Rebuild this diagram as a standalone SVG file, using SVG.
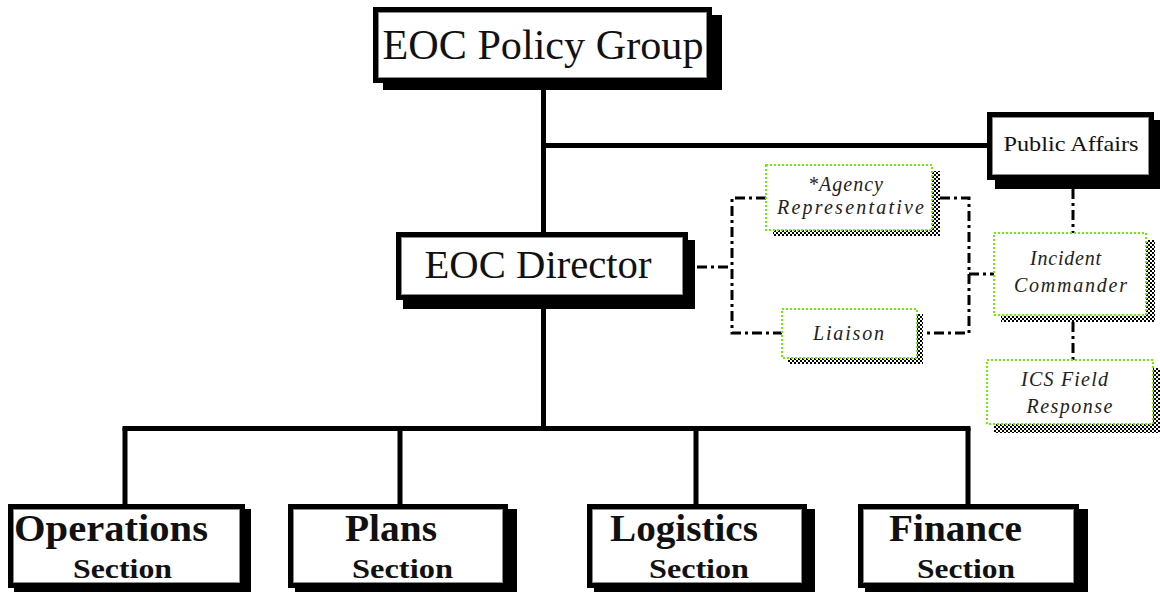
<svg xmlns="http://www.w3.org/2000/svg" width="1160" height="592" viewBox="0 0 1160 592">
  <style>
    .box { fill: #fff; stroke: #000; stroke-width: 5; }
    .inner { fill: none; stroke: #8a8a8a; stroke-width: 1; }
    .shadow { fill: #000; }
    .dbox { fill: #fff; stroke: #6cf000; stroke-width: 2; stroke-dasharray: 2 2; }
    .cshadow { fill: url(#checker); }
    .solid { fill: none; stroke: #000; stroke-width: 5; }
    .dashdot { fill: none; stroke: #000; stroke-width: 3; stroke-dasharray: 10 4 3 4; }
    text { font-family: "Liberation Serif", "DejaVu Serif", serif; fill: #111; text-anchor: middle; }
    .big { font-size: 43px; }
    .mid { font-size: 40px; }
    .small { font-size: 21px; }
    .ital { font-size: 20px; font-style: italic; letter-spacing: 1px; fill: #222; }
    .sec1 { font-size: 38px; font-weight: bold; }
    .sec2 { font-size: 28px; font-weight: bold; }
  </style>
  <defs>
    <pattern id="checker" width="4" height="4" patternUnits="userSpaceOnUse">
      <rect width="4" height="4" fill="#fff"/>
      <rect width="2" height="2" fill="#000"/>
      <rect x="2" y="2" width="2" height="2" fill="#000"/>
    </pattern>
  </defs>

  <g id="connectors">
    <!-- solid reporting lines -->
    <path class="solid" d="M543.5 83 V232"/>
    <path class="solid" d="M543 145.5 H988"/>
    <path class="solid" d="M543.5 300 V431"/>
    <path class="solid" d="M122.5 428.5 H970.5"/>
    <path class="solid" d="M125 428 V505"/>
    <path class="solid" d="M400 428 V505"/>
    <path class="solid" d="M696 428 V505"/>
    <path class="solid" d="M968 428 V505"/>
    <!-- coordination lines -->
    <path class="dashdot" d="M697 267 H732"/>
    <path class="dashdot" d="M766 198 H732 V333 H782"/>
    <path class="dashdot" d="M940 198 H969 V333 H923"/>
    <path class="dashdot" d="M969 274 H994"/>
    <path class="dashdot" d="M1073 189 V233"/>
    <path class="dashdot" d="M1073 322 V360"/>
  </g>

  <g id="policy-group">
    <rect class="shadow" x="383" y="15" width="339" height="75"/>
    <rect class="box" x="375.5" y="9.5" width="334" height="71"/>
    <rect class="inner" x="378.5" y="12.5" width="328" height="65"/>
    <text class="big" x="543" y="59" textLength="321" lengthAdjust="spacingAndGlyphs">EOC Policy Group</text>
  </g>

  <g id="public-affairs">
    <rect class="shadow" x="995" y="120" width="165" height="69"/>
    <rect class="box" x="989.5" y="114.5" width="162" height="63"/>
    <rect class="inner" x="992.5" y="117.5" width="156" height="57"/>
    <text class="small" x="1071" y="151" textLength="135" lengthAdjust="spacingAndGlyphs">Public Affairs</text>
  </g>

  <g id="eoc-director">
    <rect class="shadow" x="403" y="240" width="292" height="69"/>
    <rect class="box" x="398.5" y="234.5" width="287" height="63"/>
    <rect class="inner" x="401.5" y="237.5" width="281" height="57"/>
    <text class="mid" x="538" y="278" textLength="227" lengthAdjust="spacingAndGlyphs">EOC Director</text>
  </g>

  <g id="agency-representative">
    <rect class="cshadow" x="773" y="171" width="167" height="65"/>
    <rect class="dbox" x="766" y="165" width="166" height="65"/>
    <text class="ital" x="846" y="191" textLength="76">*Agency</text>
    <text class="ital" x="851" y="214" textLength="148">Representative</text>
  </g>

  <g id="liaison">
    <rect class="cshadow" x="788" y="314" width="135" height="50"/>
    <rect class="dbox" x="782" y="309" width="135" height="49"/>
    <text class="ital" x="849" y="340" textLength="72">Liaison</text>
  </g>

  <g id="incident-commander">
    <rect class="cshadow" x="1001" y="240" width="154" height="82"/>
    <rect class="dbox" x="994" y="233" width="152" height="82"/>
    <text class="ital" x="1066" y="265" textLength="72">Incident</text>
    <text class="ital" x="1071" y="292" textLength="114">Commander</text>
  </g>

  <g id="ics-field-response">
    <rect class="cshadow" x="994" y="368" width="166" height="65"/>
    <rect class="dbox" x="987" y="360" width="166" height="64"/>
    <text class="ital" x="1065" y="386" textLength="88">ICS Field</text>
    <text class="ital" x="1070" y="413" textLength="87">Response</text>
  </g>

  <g id="operations-section">
    <rect class="shadow" x="14" y="509" width="237" height="83"/>
    <rect class="box" x="10.5" y="506.5" width="232" height="79"/>
    <rect class="inner" x="13.5" y="509.5" width="226" height="73"/>
    <text class="sec1" x="111" y="541" textLength="194" lengthAdjust="spacingAndGlyphs">Operations</text>
    <text class="sec2" x="122.5" y="578" textLength="99" lengthAdjust="spacingAndGlyphs">Section</text>
  </g>

  <g id="plans-section">
    <rect class="shadow" x="295" y="509" width="222" height="83"/>
    <rect class="box" x="290.5" y="506.5" width="215" height="79"/>
    <rect class="inner" x="293.5" y="509.5" width="209" height="73"/>
    <text class="sec1" x="391" y="541" textLength="92" lengthAdjust="spacingAndGlyphs">Plans</text>
    <text class="sec2" x="402.5" y="578" textLength="101" lengthAdjust="spacingAndGlyphs">Section</text>
  </g>

  <g id="logistics-section">
    <rect class="shadow" x="594" y="509" width="221" height="83"/>
    <rect class="box" x="589.5" y="506.5" width="215" height="79"/>
    <rect class="inner" x="592.5" y="509.5" width="209" height="73"/>
    <text class="sec1" x="684" y="541" textLength="148" lengthAdjust="spacingAndGlyphs">Logistics</text>
    <text class="sec2" x="699" y="578" textLength="100" lengthAdjust="spacingAndGlyphs">Section</text>
  </g>

  <g id="finance-section">
    <rect class="shadow" x="865" y="509" width="223" height="83"/>
    <rect class="box" x="860.5" y="506.5" width="216" height="79"/>
    <rect class="inner" x="863.5" y="509.5" width="210" height="73"/>
    <text class="sec1" x="955.5" y="541" textLength="133" lengthAdjust="spacingAndGlyphs">Finance</text>
    <text class="sec2" x="966" y="578" textLength="98" lengthAdjust="spacingAndGlyphs">Section</text>
  </g>
</svg>
